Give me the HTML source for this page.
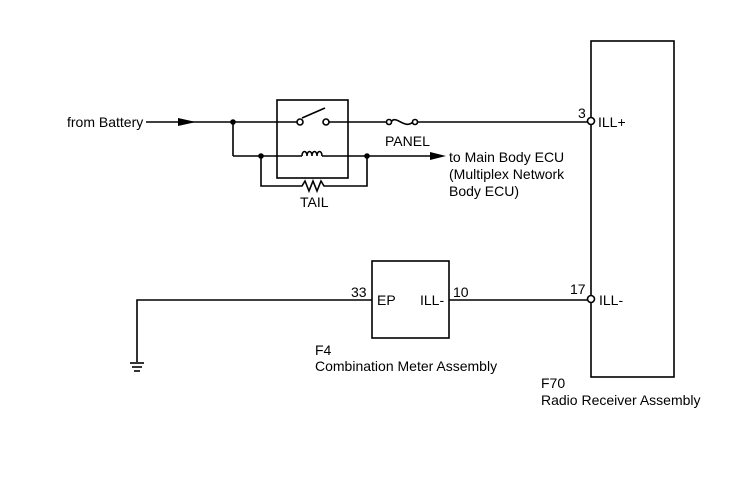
<!DOCTYPE html>
<html><head><style>
body{margin:0;background:#fff;}
svg{display:block;}
text{font-family:"Liberation Sans",Arial,sans-serif;font-size:14px;fill:#000;}
</style></head><body>
<svg width="735" height="481" viewBox="0 0 735 481" xmlns="http://www.w3.org/2000/svg">
<g stroke="#000" stroke-width="1.6" fill="none">
<rect x="591" y="41" width="83" height="336"/>
<line x1="146" y1="122" x2="300" y2="122"/>
<line x1="326" y1="122" x2="387" y2="122"/>
<line x1="417" y1="122" x2="588" y2="122"/>
<rect x="277" y="100" width="71" height="78"/>
<line x1="302" y1="118" x2="325" y2="108" />
<path d="M391,122 C396,114 404,130 413,122"/>
<line x1="233" y1="122" x2="233" y2="156"/>
<line x1="233" y1="156" x2="302" y2="156"/>
<path d="M302,156 c0,-6 5,-6 5,0 c0,-6 5,-6 5,0 c0,-6 5,-6 5,0 c0,-6 5,-6 5,0"/>
<line x1="322" y1="156" x2="435" y2="156"/>
<polyline points="261,156 261,186 302,186 305,181 309,191 313,181 317,191 321,181 324,186 367,186 367,156"/>
<polyline points="137,362 137,300 372,300"/>
<line x1="449" y1="300" x2="588" y2="300"/>
<rect x="372" y="261" width="77" height="77"/>
<line x1="130" y1="363" x2="144" y2="363"/>
<line x1="132" y1="367" x2="142" y2="367"/>
<line x1="134" y1="371" x2="140" y2="371"/>
</g>
<g fill="#000">
<polygon points="178,118 196,122 178,126"/>
<polygon points="430,152 446,156 430,160"/>
<circle cx="233" cy="122" r="2.8"/>
<circle cx="261" cy="156" r="2.8"/>
<circle cx="367" cy="156" r="2.8"/>
</g>
<g fill="#fff" stroke="#000" stroke-width="1.6">
<circle cx="300" cy="122" r="3"/>
<circle cx="326" cy="122" r="3"/>
<circle cx="389" cy="122" r="2.5"/>
<circle cx="415" cy="122" r="2.5"/>
<circle cx="591" cy="121" r="3.5"/>
<circle cx="591" cy="299" r="3.5"/>
</g>
<text x="67" y="127">from Battery</text>
<text x="385" y="146">PANEL</text>
<text x="300" y="207">TAIL</text>
<text x="449" y="162">to Main Body ECU</text>
<text x="449" y="179">(Multiplex Network</text>
<text x="449" y="196">Body ECU)</text>
<text x="578" y="118">3</text>
<text x="598" y="127">ILL+</text>
<text x="570" y="294">17</text>
<text x="599" y="305">ILL-</text>
<text x="351" y="297">33</text>
<text x="377" y="305">EP</text>
<text x="420" y="305">ILL-</text>
<text x="453" y="297">10</text>
<text x="315" y="355">F4</text>
<text x="315" y="371">Combination Meter Assembly</text>
<text x="541" y="388">F70</text>
<text x="541" y="405">Radio Receiver Assembly</text>
</svg>
</body></html>
